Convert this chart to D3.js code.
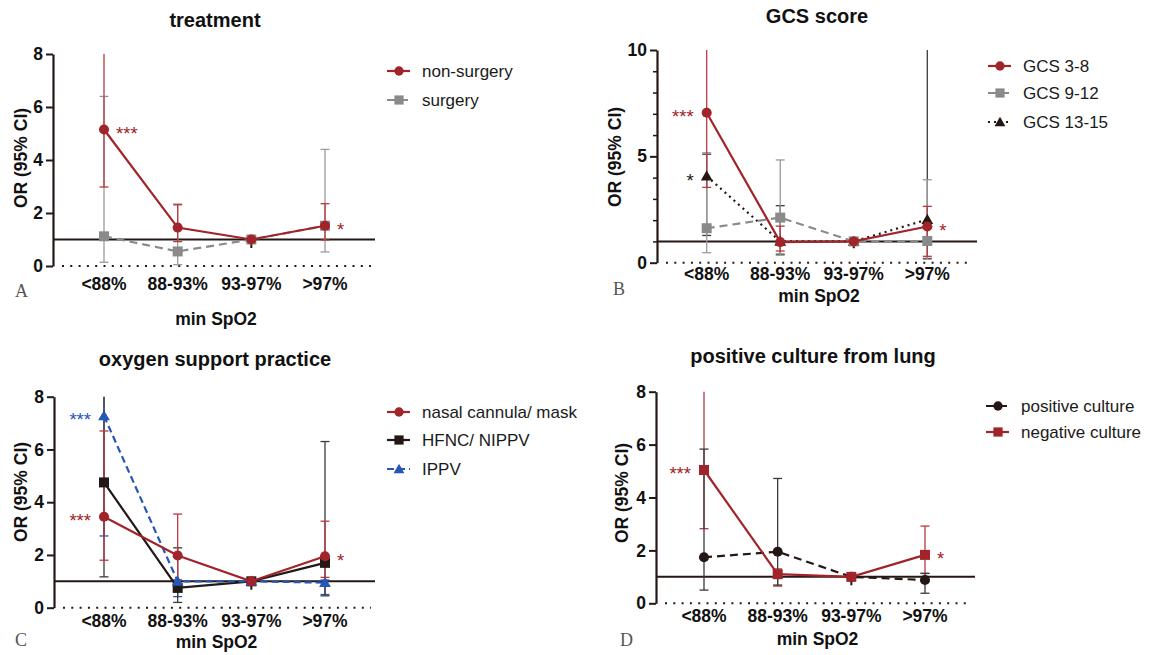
<!DOCTYPE html>
<html>
<head>
<meta charset="utf-8">
<script src="https://cdn.jsdelivr.net/npm/d3@7"></script>
<style>
  html, body { margin: 0; padding: 0; background: #fff; }
  svg { display: block; font-family: "Liberation Sans", Arial, Helvetica, sans-serif; }
</style>
</head>
<body>
<svg id="chart" width="1151" height="655"></svg>
<script>
// ---------- DATA ----------
const categories = ["<88%", "88-93%", "93-97%", ">97%"];
const refStubLow = 0.68;   // short black reference stub under the 93-97% reference point

// Panel A: treatment
const nonSurgeryOR = [5.15, 1.45, 1, 1.52];
const nonSurgeryLo = [2.98, 0.92, null, 0.98];
const nonSurgeryHi = [8, 2.33, null, 2.35];
const surgeryOR = [1.12, 0.55, 1, 1.52];
const surgeryLo = [0.14, 0.05, null, 0.53];
const surgeryHi = [6.4, 2.3, null, 4.4];

// Panel B: GCS score
const gcs38OR = [7.05, 0.97, 1, 1.7];
const gcs38Lo = [3.54, 0.55, null, 0.3];
const gcs38Hi = [10, 1.72, null, 2.65];
const gcs912OR = [1.62, 2.12, 1, 1.02];
const gcs912Lo = [0.47, 0.35, null, 0.16];
const gcs912Hi = [5.17, 4.83, null, 3.9];
const gcs1315OR = [4.07, 1.0, 1, 2.03];
const gcs1315Lo = [1.28, 0.4, null, 0.2];
const gcs1315Hi = [5.1, 2.68, null, 10];

// Panel C: oxygen support practice
const nasalOR = [3.45, 1.98, 1, 1.95];
const nasalLo = [1.8, 1.05, null, 1.15];
const nasalHi = [6.7, 3.55, null, 3.28];
const hfncOR = [4.75, 0.75, 1, 1.7];
const hfncLo = [1.17, 0.2, null, 0.45];
const hfncHi = [8, 2.27, null, 6.3];
const ippvOR = [7.27, 1.0, 1, 0.95];
const ippvLo = [2.72, 0.42, null, 0.5];
const ippvHi = [8, 1.05, null, 1.05];

// Panel D: positive culture from lung
const posCultureOR = [1.74, 1.95, 1, 0.88];
const posCultureLo = [0.5, 0.69, null, 0.38];
const posCultureHi = [5.83, 4.72, null, 1.13];
const negCultureOR = [5.04, 1.1, 1, 1.83];
const negCultureLo = [2.82, 0.65, null, 1.13];
const negCultureHi = [8, 1.3, null, 2.92];

// ---------- STYLE ----------
const RED = "#a0242a", RED_EB = "#b83a40";
const GRAY = "#8a8a8a", GRAY_EB = "#9a9a9a";
const BLACK = "#231815", BLACK_EB = "#3a3a3a";
const BLUE = "#2656b8";

const svg = d3.select("#chart");

const panels = [
  {
    title: "treatment", titleX: 215, titleY: 27, letter: "A", letterX: 15, letterY: 297,
    axisX: 53, lineEnd: 375, xRange: [104, 325], yRange: [266, 54], ymax: 8,
    ticks: [0, 2, 4, 6, 8], minor: [],
    tickLabelY: 290, xTitleY: 325, yTitleX: 21, yTitleY: 158,
    legendX: 387, legendRows: [71, 100],
    series: [
      { name: "surgery", or: surgeryOR, lo: surgeryLo, hi: surgeryHi, color: GRAY, eb: GRAY_EB, dash: "8,5", marker: d3.symbolSquare, size: 100 },
      { name: "non-surgery", or: nonSurgeryOR, lo: nonSurgeryLo, hi: nonSurgeryHi, color: RED, eb: RED_EB, dash: null, marker: d3.symbolCircle, size: 80 }
    ],
    legendOrder: [1, 0],
    ebOrder: [0, 1],
    stars: [ { s: 1, c: 0, t: "***", side: "right" }, { s: 1, c: 3, t: "*", side: "right" } ]
  },
  {
    title: "GCS score", titleX: 817, titleY: 23, letter: "B", letterX: 613, letterY: 295,
    axisX: 657, lineEnd: 977, xRange: [706.7, 927.3], yRange: [262.7, 50], ymax: 10,
    ticks: [0, 5, 10], minor: [1, 2, 3, 4, 6, 7, 8, 9],
    tickLabelY: 280, xTitleY: 302, yTitleX: 615, yTitleY: 157,
    legendX: 988, legendRows: [66, 93, 122],
    series: [
      { name: "GCS 13-15", or: gcs1315OR, lo: gcs1315Lo, hi: gcs1315Hi, color: BLACK, eb: BLACK_EB, dash: "2,4", marker: d3.symbolTriangle, size: 60 },
      { name: "GCS 9-12", or: gcs912OR, lo: gcs912Lo, hi: gcs912Hi, color: GRAY, eb: GRAY_EB, dash: "8,5", marker: d3.symbolSquare, size: 100 },
      { name: "GCS 3-8", or: gcs38OR, lo: gcs38Lo, hi: gcs38Hi, color: RED, eb: RED_EB, dash: null, marker: d3.symbolCircle, size: 80 }
    ],
    legendOrder: [2, 1, 0],
    ebOrder: [0, 1, 2],
    stars: [ { s: 2, c: 0, t: "***", side: "left" }, { s: 0, c: 0, t: "*", side: "left" }, { s: 2, c: 3, t: "*", side: "right" } ]
  },
  {
    title: "oxygen support practice", titleX: 215, titleY: 366, letter: "C", letterX: 15, letterY: 646,
    axisX: 54, lineEnd: 375, xRange: [104, 325], yRange: [607.7, 396.7], ymax: 8,
    ticks: [0, 2, 4, 6, 8], minor: [],
    tickLabelY: 626.5, xTitleY: 648, yTitleX: 21, yTitleY: 492,
    legendX: 387, legendRows: [412, 440, 469],
    series: [
      { name: "HFNC/ NIPPV", or: hfncOR, lo: hfncLo, hi: hfncHi, color: BLACK, eb: BLACK_EB, dash: null, marker: d3.symbolSquare, size: 100 },
      { name: "IPPV", or: ippvOR, lo: ippvLo, hi: ippvHi, color: BLUE, eb: BLUE, dash: "7,4", marker: d3.symbolTriangle, size: 60 },
      { name: "nasal cannula/ mask", or: nasalOR, lo: nasalLo, hi: nasalHi, color: RED, eb: RED_EB, dash: null, marker: d3.symbolCircle, size: 80 }
    ],
    legendOrder: [2, 0, 1],
    ebOrder: [1, 0, 2],
    stars: [ { s: 1, c: 0, t: "***", side: "left" }, { s: 2, c: 0, t: "***", side: "left" }, { s: 2, c: 3, t: "*", side: "right" } ]
  },
  {
    title: "positive culture from lung", titleX: 813, titleY: 363, letter: "D", letterX: 620, letterY: 646,
    axisX: 656, lineEnd: 975, xRange: [704, 925], yRange: [603.3, 391.7], ymax: 8,
    ticks: [0, 2, 4, 6, 8], minor: [],
    tickLabelY: 621.5, xTitleY: 645, yTitleX: 622, yTitleY: 493,
    legendX: 986, legendRows: [406, 432],
    series: [
      { name: "positive culture", or: posCultureOR, lo: posCultureLo, hi: posCultureHi, color: BLACK, eb: BLACK_EB, dash: "8,5", marker: d3.symbolCircle, size: 80 },
      { name: "negative culture", or: negCultureOR, lo: negCultureLo, hi: negCultureHi, color: RED, eb: RED_EB, dash: null, marker: d3.symbolSquare, size: 100 }
    ],
    legendOrder: [0, 1],
    ebOrder: [1, 0],
    stars: [ { s: 1, c: 0, t: "***", side: "left" }, { s: 1, c: 3, t: "*", side: "right" } ]
  }
];

function drawPanel(p) {
  const g = svg.append("g");
  const x = d3.scalePoint().domain(categories).range(p.xRange);
  const y = d3.scaleLinear().domain([0, p.ymax]).range(p.yRange);

  // title
  g.append("text").attr("x", p.titleX).attr("y", p.titleY).attr("text-anchor", "middle")
    .attr("font-weight", "bold").attr("font-size", 20).attr("fill", "#111").text(p.title);

  // panel letter
  g.append("text").attr("x", p.letterX).attr("y", p.letterY)
    .style("font-family", "'Liberation Serif', 'DejaVu Serif', serif").attr("font-size", 18)
    .attr("fill", "#555").text(p.letter);

  // dotted zero line
  g.append("line").attr("x1", p.axisX + 9).attr("x2", p.lineEnd - 4)
    .attr("y1", y(0)).attr("y2", y(0))
    .attr("stroke", BLACK).attr("stroke-width", 2).attr("stroke-dasharray", "2,6.3");

  // y axis
  const yAxis = d3.axisLeft(y).tickValues(p.ticks).tickSize(7).tickSizeOuter(0).tickPadding(3);
  const ag = g.append("g").attr("transform", `translate(${p.axisX},0)`).call(yAxis);
  ag.select(".domain").attr("stroke", BLACK).attr("stroke-width", 2.2);
  ag.selectAll(".tick line").attr("stroke", BLACK).attr("stroke-width", 2);
  ag.selectAll(".tick text").attr("font-size", 17.5).attr("font-weight", "bold")
    .attr("fill", "#111").attr("font-family", "'Liberation Sans', Arial, sans-serif");
  if (p.minor.length) {
    const mg = g.append("g").attr("transform", `translate(${p.axisX},0)`)
      .call(d3.axisLeft(y).tickValues(p.minor).tickSize(4).tickSizeOuter(0).tickFormat(""));
    mg.select(".domain").remove();
    mg.selectAll(".tick line").attr("stroke", BLACK).attr("stroke-width", 1.5);
  }

  // reference line OR = 1
  g.append("line").attr("x1", p.axisX).attr("x2", p.lineEnd)
    .attr("y1", y(1)).attr("y2", y(1)).attr("stroke", BLACK).attr("stroke-width", 2);

  // x tick labels
  g.selectAll(".xl").data(categories).enter().append("text")
    .attr("x", d => x(d)).attr("y", p.tickLabelY).attr("text-anchor", "middle")
    .attr("font-weight", "bold").attr("font-size", 17.5).attr("fill", "#111").text(d => d);

  // axis titles
  g.append("text").attr("x", (p.axisX + p.lineEnd) / 2 + 2).attr("y", p.xTitleY).attr("text-anchor", "middle")
    .attr("font-weight", "bold").attr("font-size", 17.5).attr("fill", "#111").text("min SpO2");
  g.append("text").attr("transform", `translate(${p.yTitleX + 6},${p.yTitleY}) rotate(-90)`)
    .attr("text-anchor", "middle").attr("font-weight", "bold").attr("font-size", 17.5)
    .attr("fill", "#111").text("OR (95% CI)");

  // reference stub under the reference category
  g.append("line").attr("x1", x(categories[2])).attr("x2", x(categories[2]))
    .attr("y1", y(1)).attr("y2", y(refStubLow)).attr("stroke", BLACK).attr("stroke-width", 2);

  // error bars
  p.ebOrder.forEach(si => {
    const s = p.series[si];
    const eg = g.append("g");
    categories.forEach((c, i) => {
      if (s.lo[i] == null || s.hi[i] == null) return;
      const cx = x(c);
      eg.append("line").attr("x1", cx).attr("x2", cx).attr("y1", y(s.lo[i])).attr("y2", y(s.hi[i]))
        .attr("stroke", s.eb).attr("stroke-width", 1.3);
      [s.lo[i], s.hi[i]].forEach(v => {
        if (v >= p.ymax) return;
        eg.append("line").attr("x1", cx - 4.5).attr("x2", cx + 4.5).attr("y1", y(v)).attr("y2", y(v))
          .attr("stroke", s.eb).attr("stroke-width", 1.3);
      });
    });
  });

  // lines and markers
  const lineGen = d3.line().x((d, i) => x(categories[i])).y(d => y(d));
  p.series.forEach(s => {
    g.append("path").attr("d", lineGen(s.or)).attr("fill", "none").attr("stroke", s.color)
      .attr("stroke-width", 2.2).attr("stroke-dasharray", s.dash);
    g.selectAll(null).data(s.or).enter().append("path")
      .attr("d", d3.symbol().type(s.marker).size(s.size))
      .attr("transform", (d, i) => `translate(${x(categories[i])},${y(d) + (s.marker === d3.symbolTriangle ? 1 : 0)})`)
      .attr("fill", s.color);
  });

  // significance stars
  p.stars.forEach(st => {
    const s = p.series[st.s];
    const cx = x(categories[st.c]);
    const cy = y(s.or[st.c]);
    g.append("text")
      .attr("x", st.side === "left" ? cx - 13 : cx + 12)
      .attr("y", cy + 10.5)
      .attr("text-anchor", st.side === "left" ? "end" : "start")
      .attr("font-size", 18.5).attr("fill", s.color).text(st.t);
  });

  // legend
  p.legendOrder.forEach((si, k) => {
    const s = p.series[si];
    const ly = p.legendRows[k];
    g.append("line").attr("x1", p.legendX).attr("x2", p.legendX + 23).attr("y1", ly).attr("y2", ly)
      .attr("stroke", s.color).attr("stroke-width", 2.2).attr("stroke-dasharray", s.dash);
    g.append("path").attr("d", d3.symbol().type(s.marker).size(s.size * 0.85))
      .attr("transform", `translate(${p.legendX + 12},${ly + (s.marker === d3.symbolTriangle ? 1 : 0)})`)
      .attr("fill", s.color);
    g.append("text").attr("x", p.legendX + 35).attr("y", ly + 6).attr("font-size", 17)
      .attr("fill", "#1a1a1a").text(s.name);
  });
}

panels.forEach(drawPanel);
</script>
</body>
</html>
